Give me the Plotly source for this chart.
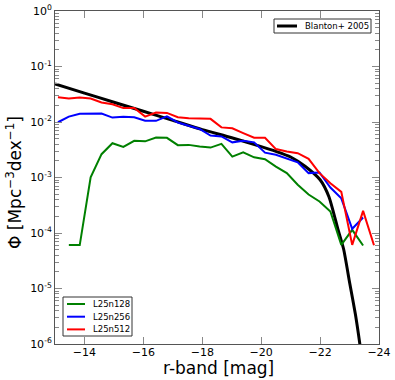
import plotly.graph_objects as go

# Magnitude bins (r-band)
mag = [-13.10, -13.47, -13.84, -14.21, -14.58, -14.95, -15.32, -15.69, -16.06, -16.43,
       -16.80, -17.17, -17.54, -17.91, -18.28, -18.65, -19.02, -19.39, -19.76, -20.13,
       -20.50, -20.87, -21.24, -21.61, -21.98, -22.35, -22.72, -23.09, -23.46, -23.83]

phi_n128 = [None, 6.05e-5, 6.05e-5, 1.01e-3, 2.63e-3, 4.15e-3, 3.56e-3, 4.57e-3, 4.48e-3, 5.24e-3,
            5.18e-3, 3.82e-3, 3.87e-3, 3.61e-3, 3.46e-3, 4.03e-3, 2.38e-3, 2.84e-3, 2.31e-3, 2.14e-3,
            1.57e-3, 1.20e-3, 7.4e-4, 4.93e-4, 3.69e-4, 2.44e-4, 6.1e-5, 1.14e-4, 5.96e-5, None]

phi_n256 = [9.9e-3, 1.25e-2, 1.41e-2, 1.40e-2, 1.42e-2, 1.20e-2, 1.24e-2, 1.22e-2, 1.05e-2, 1.05e-2,
            1.26e-2, 9.8e-3, 8.6e-3, 7.5e-3, 5.7e-3, 5.5e-3, 4.3e-3, 4.6e-3, 4.3e-3, 2.8e-3,
            2.56e-3, 2.23e-3, 1.88e-3, 1.20e-3, 1.23e-3, 6.6e-4, 4.2e-4, 1.19e-4, 1.9e-4, None]

phi_n512 = [2.80e-2, 2.64e-2, 2.77e-2, 2.64e-2, 2.25e-2, 2.09e-2, 1.78e-2, 1.79e-2, 1.25e-2, 1.48e-2,
            1.46e-2, 1.22e-2, 1.17e-2, 1.17e-2, 1.14e-2, 8.0e-3, 7.7e-3, 6.3e-3, 5.2e-3, 5.2e-3,
            3.25e-3, 2.93e-3, 2.74e-3, 2.17e-3, 1.20e-3, 7.9e-4, 5.5e-4, 6.1e-5, 2.5e-4, 6.0e-5]

# Blanton+ 2005 curve
mag_blanton = [-13.0, -14.0, -15.0, -16.0, -17.0, -18.0, -19.0, -20.0, -20.5, -21.0,
               -21.5, -22.0, -22.3, -22.6, -22.8, -23.0, -23.2, -23.35, -23.6]
phi_blanton = [4.85e-2, 3.32e-2, 2.27e-2, 1.56e-2, 1.07e-2, 7.3e-3, 5.2e-3, 3.6e-3, 2.95e-3, 2.34e-3,
               1.58e-3, 9.1e-4, 4.5e-4, 1.2e-4, 5.1e-5, 1.3e-5, 3.4e-6, 1.0e-6, 1.0e-7]

series_names = ["L25n128", "L25n256", "L25n512"]
series_colors = ["#008000", "#0000ff", "#ff0000"]
ref_name = "Blanton+ 2005"

xtick_vals = [-14, -16, -18, -20, -22, -24]
xtick_text = ["\u221214", "\u221216", "\u221218", "\u221220", "\u221222", "\u221224"]
ytick_vals = [1e-6, 1e-5, 1e-4, 1e-3, 1e-2, 1e-1, 1]
ytick_text = ["10<sup>-6</sup>", "10<sup>-5</sup>", "10<sup>-4</sup>", "10<sup>-3</sup>",
              "10<sup>-2</sup>", "10<sup>-1</sup>", "10<sup>0</sup>"]

FONT = "DejaVu Sans"
W, H = 395, 380
L, R, T, B = 55, 16, 11, 36
PW, PH = W - L - R, H - T - B


def px(x):
    return (x - L) / PW


def py(y):
    return (H - B - y) / PH


fig = go.Figure()

fig.add_trace(go.Scatter(x=mag_blanton, y=phi_blanton, mode="lines", name=ref_name,
                         line=dict(color="black", width=3, shape="spline", smoothing=0.6),
                         showlegend=False))
for name, col, vals in zip(series_names, series_colors, [phi_n128, phi_n256, phi_n512]):
    fig.add_trace(go.Scatter(x=mag, y=vals, mode="lines", name=name,
                             line=dict(color=col, width=2), showlegend=False))

axis_common = dict(showgrid=False, zeroline=False, showline=True, linecolor="#555555",
                   linewidth=1, mirror="ticks", ticks="inside", tickcolor="#888888",
                   ticklen=7, tickwidth=1, automargin=False,
                   tickfont=dict(family=FONT, size=11, color="black"))

fig.update_xaxes(range=[-13, -24], tickvals=xtick_vals, ticktext=xtick_text,
                 ticklabelstandoff=-2, **axis_common)
fig.update_yaxes(type="log", range=[-6, 0], tickvals=ytick_vals, ticktext=ytick_text,
                 minor=dict(ticks="inside", ticklen=4, tickcolor="#888888",
                            tickvals=[m * 10 ** e for e in range(-6, 0) for m in range(2, 10)]),
                 **axis_common)

shapes = []
annotations = []

# axis titles
annotations.append(dict(x=px(218), y=py(368), xref="paper", yref="paper", showarrow=False,
                        text="r-band [mag]", font=dict(family=FONT, size=17, color="black"),
                        xanchor="center", yanchor="middle"))
annotations.append(dict(x=px(14), y=py(183), xref="paper", yref="paper", showarrow=False,
                        text="\u03a6 [Mpc<sup>\u22123</sup>dex<sup>\u22121</sup>]", textangle=-90,
                        font=dict(family=FONT, size=17, color="black"),
                        xanchor="center", yanchor="middle"))

# legend 1 (top right)
shapes.append(dict(type="rect", xref="paper", yref="paper", x0=px(274), x1=px(371),
                   y0=py(33), y1=py(19), line=dict(color="#333333", width=1), fillcolor="white"))
shapes.append(dict(type="line", xref="paper", yref="paper", x0=px(277), x1=px(297),
                   y0=py(26), y1=py(26), line=dict(color="black", width=3)))
annotations.append(dict(x=px(303), y=py(26), xref="paper", yref="paper", showarrow=False,
                        text=ref_name, font=dict(family=FONT, size=8.5, color="black"),
                        xanchor="left", yanchor="middle"))

# legend 2 (bottom left)
shapes.append(dict(type="rect", xref="paper", yref="paper", x0=px(63), x1=px(132),
                   y0=py(336), y1=py(297), line=dict(color="#333333", width=1), fillcolor="white"))
for i, (name, col) in enumerate(zip(series_names, series_colors)):
    yy = 304 + i * 12.7
    shapes.append(dict(type="line", xref="paper", yref="paper", x0=px(67), x1=px(85),
                       y0=py(yy), y1=py(yy), line=dict(color=col, width=2)))
    annotations.append(dict(x=px(91), y=py(yy), xref="paper", yref="paper", showarrow=False,
                            text=name, font=dict(family=FONT, size=8.5, color="black"),
                            xanchor="left", yanchor="middle"))

fig.update_layout(
    width=W, height=H,
    margin=dict(l=L, r=R, t=T, b=B),
    paper_bgcolor="white", plot_bgcolor="white",
    font=dict(family=FONT, color="black"),
    showlegend=False,
    shapes=shapes,
    annotations=annotations,
)

fig.write_html("out.html", config={"displayModeBar": False},
               post_script="document.body.style.margin='0';document.body.style.overflow='hidden';")
